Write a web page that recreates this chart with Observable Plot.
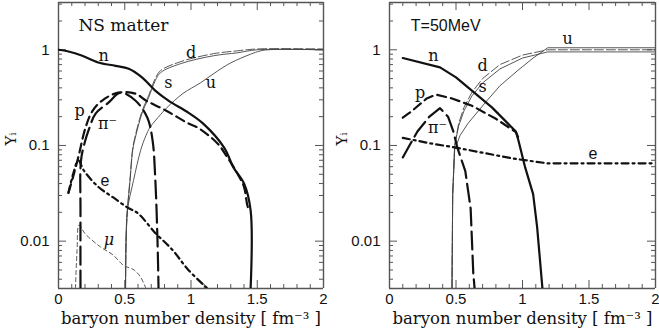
<!DOCTYPE html>
<html><head><meta charset="utf-8">
<script src="https://cdn.jsdelivr.net/npm/d3@7"></script>
<script src="https://cdn.jsdelivr.net/npm/@observablehq/plot@0.6"></script>
<style>
body{margin:0;background:#fff;}
#wrap{position:relative;width:659px;height:331px;overflow:hidden;}
#wrap > svg{position:absolute;top:0;}
</style></head><body><div id="wrap"></div>
<script>
// ---- axis ticks ----
const xDomain = [0, 2];
const yDomain = [0.0032, 3.12];
const xTicks = [0, 0.5, 1, 1.5, 2];
const xTickLabels = ["0", "0.5", "1", "1.5", "2"];
const xMinor = [0.1,0.2,0.3,0.4,0.6,0.7,0.8,0.9,1.1,1.2,1.3,1.4,1.6,1.7,1.8,1.9];
const yTicks = [0.01, 0.1, 1];
const yTickLabels = ["0.01", "0.1", "1"];
const yMinor = [0.004,0.005,0.006,0.007,0.008,0.009,0.02,0.03,0.04,0.05,0.06,0.07,0.08,0.09,0.2,0.3,0.4,0.5,0.6,0.7,0.8,0.9,2,3];
const xLabel = "baryon number density [ fm⁻³ ]";
const yLabel = "Yᵢ";
const yLabelAt = [0.1];

// ---- left panel: NS matter ----
const nsN  = [[0,1.0],[0.075,0.96],[0.18,0.866],[0.30,0.737],[0.43,0.68],[0.53,0.634],[0.63,0.515],[0.73,0.374],[0.83,0.294],[0.98,0.22],[1.09,0.17],[1.25,0.095],[1.32,0.059],[1.40,0.040],[1.45,0.021],[1.45,0.0032]];
const nsP  = [[0.075,0.032],[0.11,0.047],[0.153,0.079],[0.204,0.154],[0.257,0.23],[0.33,0.295],[0.45,0.356],[0.58,0.348],[0.66,0.295],[0.81,0.232],[0.98,0.17],[1.05,0.154],[1.2,0.105],[1.275,0.075],[1.35,0.051],[1.40,0.037],[1.43,0.0226],[1.45,0.021]];
const nsPi = [[0.166,0.0032],[0.166,0.02],[0.17,0.07],[0.2,0.11],[0.226,0.143],[0.28,0.215],[0.377,0.28],[0.468,0.356],[0.58,0.295],[0.67,0.196],[0.71,0.113],[0.73,0.046],[0.747,0.0103],[0.755,0.0032]];
const nsE  = [[0.075,0.032],[0.11,0.05],[0.15,0.07],[0.19,0.055],[0.30,0.037],[0.41,0.0288],[0.52,0.0225],[0.60,0.0195],[0.73,0.0122],[0.86,0.0081],[0.98,0.005],[1.125,0.0032]];
const nsMu = [[0.128,0.0032],[0.14,0.008],[0.155,0.0147],[0.2,0.012],[0.317,0.0087],[0.41,0.0072],[0.49,0.0056],[0.57,0.005],[0.62,0.0042],[0.66,0.0032]];
const nsS  = [[0.506,0.0032],[0.51,0.0103],[0.52,0.021],[0.54,0.043],[0.56,0.089],[0.58,0.121],[0.63,0.216],[0.68,0.316],[0.73,0.475],[0.77,0.576],[0.92,0.715],[1.17,0.866],[1.35,0.93],[1.50,1.0],[2.0,1.0]];
const nsD  = [[0.506,0.0032],[0.51,0.0103],[0.52,0.021],[0.54,0.045],[0.56,0.093],[0.58,0.127],[0.63,0.227],[0.68,0.332],[0.73,0.5],[0.77,0.605],[0.92,0.75],[1.17,0.91],[1.35,0.975],[1.50,1.02],[2.0,1.02]];
const nsU  = [[0.506,0.0032],[0.51,0.0103],[0.52,0.021],[0.566,0.043],[0.62,0.089],[0.66,0.127],[0.69,0.154],[0.77,0.21],[0.82,0.25],[0.94,0.35],[1.07,0.45],[1.2,0.6],[1.30,0.73],[1.45,0.9],[1.52,0.97],[1.58,1.0],[2.0,1.0]];
const nsTitle = [{x: 0.15, y: 1.78, t: "NS matter"}];
const nsLabels = [
  {x:0.34, y:0.866, t:"n"},
  {x:1.0, y:0.93, t:"d"},
  {x:0.83, y:0.45, t:"s"},
  {x:1.15, y:0.45, t:"u"},
  {x:0.16, y:0.232, t:"p"},
  {x:0.37, y:0.17, t:"π⁻"}
];
const nsSansLabels = [{x:0.35, y:0.043, t:"e"}];
const nsItalicLabels = [{x:0.38, y:0.0103, t:"μ"}];

// ---- right panel: T = 50 MeV ----
const tN  = [[0.1,0.82],[0.38,0.655],[0.5,0.514],[0.77,0.25],[0.95,0.14],[0.97,0.112],[1.02,0.059],[1.08,0.031],[1.11,0.014],[1.15,0.0032]];
const tP  = [[0.1,0.195],[0.17,0.23],[0.28,0.31],[0.35,0.34],[0.47,0.31],[0.62,0.26],[0.8,0.19],[0.95,0.138],[0.97,0.12]];
const tPi = [[0.1,0.075],[0.15,0.1],[0.21,0.14],[0.3,0.2],[0.38,0.245],[0.44,0.2],[0.48,0.14],[0.51,0.095],[0.57,0.054],[0.61,0.022],[0.63,0.0046],[0.64,0.0032]];
const tE  = [[0.1,0.12],[0.31,0.105],[0.50,0.095],[0.68,0.085],[0.93,0.073],[1.19,0.065],[2.0,0.065]];
const tD  = [[0.47,0.0032],[0.475,0.03],[0.49,0.1],[0.52,0.17],[0.56,0.25],[0.62,0.36],[0.7,0.5],[0.83,0.7],[1.0,0.88],[1.19,1.0],[2.0,1.0]];
const tS  = [[0.47,0.0032],[0.475,0.03],[0.49,0.1],[0.52,0.16],[0.56,0.23],[0.62,0.33],[0.7,0.45],[0.83,0.63],[1.0,0.82],[1.19,0.95],[2.0,0.95]];
const tU  = [[0.47,0.0032],[0.475,0.03],[0.49,0.09],[0.53,0.127],[0.59,0.17],[0.72,0.28],[0.83,0.42],[0.96,0.6],[1.08,0.82],[1.19,1.05],[2.0,1.05]];
const tTitle = [{x: 0.16, y: 1.78, t: "T=50MeV"}];
const tLabels = [
  {x:0.33, y:0.866, t:"n"},
  {x:0.70, y:0.68, t:"d"},
  {x:0.70, y:0.41, t:"s"},
  {x:1.34, y:1.30, t:"u"},
  {x:0.23, y:0.356, t:"p"},
  {x:0.36, y:0.154, t:"π⁻"}
];
const tSansLabels = [{x:1.53, y:0.081, t:"e"}];

const SERIF = "DejaVu Serif";
const SANS = "Liberation Sans";
const FRAME = "#555";
const INK = "#111";

function line(data, style, curve) {
  return Plot.line(data, {x: d => d[0], y: d => d[1], curve, clip: true, ...style});
}

function panel({width, ml, mr, series, title, titleFont, titleSize, labels, sansLabels, italicLabels, curve}) {
  const H = 331 - 2 - 43, W = width - ml - mr;
  const thick = {stroke: INK, strokeWidth: 2.2};
  const thin = {stroke: "#444", strokeWidth: 0.9};
  const tk = {stroke: FRAME, strokeWidth: 1};
  const marks = [
    // frame
    Plot.ruleX(xDomain, {x: d => d, stroke: FRAME, strokeWidth: 1.4}),
    Plot.ruleY(yDomain, {y: d => d, stroke: FRAME, strokeWidth: 1.4}),
    // inward ticks, all four sides
    Plot.ruleX(xTicks, {x: d => d, insetTop: H - 8, ...tk}),
    Plot.ruleX(xTicks, {x: d => d, insetBottom: H - 8, ...tk}),
    Plot.ruleX(xMinor, {x: d => d, insetTop: H - 4, ...tk}),
    Plot.ruleX(xMinor, {x: d => d, insetBottom: H - 4, ...tk}),
    Plot.ruleY(yTicks, {y: d => d, insetRight: W - 8, ...tk}),
    Plot.ruleY(yTicks, {y: d => d, insetLeft: W - 8, ...tk}),
    Plot.ruleY(yMinor, {y: d => d, insetRight: W - 4, ...tk}),
    Plot.ruleY(yMinor, {y: d => d, insetLeft: W - 4, ...tk}),
    // tick labels
    Plot.text(xTicks, {x: d => d, frameAnchor: "bottom", dy: 15, text: (d, i) => xTickLabels[i],
      fontFamily: SANS, fontSize: 15, fill: INK}),
    Plot.text(yTicks, {y: d => d, frameAnchor: "left", dx: -9, textAnchor: "end", text: (d, i) => yTickLabels[i],
      fontFamily: SANS, fontSize: 15, fill: INK}),
    // axis titles
    Plot.text([xLabel], {frameAnchor: "bottom", dy: 35, fontFamily: SERIF, fontSize: 16.5, fill: INK}),
    Plot.text(yLabelAt, {y: d => d, frameAnchor: "left", dx: -47, rotate: -90, text: () => yLabel,
      fontFamily: SERIF, fontSize: 15, fill: INK}),
    // curves
    line(series.u, thin, curve),
    line(series.s, thin, curve),
    line(series.d, {...thin, strokeDasharray: "9,3"}, curve),
    series.mu ? line(series.mu, {...thin, strokeDasharray: "4,3"}, curve) : null,
    line(series.e, {...thick, strokeDasharray: "7,4,2,4"}, curve),
    line(series.pi, {...thick, strokeDasharray: "18,6"}, curve),
    line(series.p, {...thick, strokeDasharray: "9,5"}, curve),
    line(series.n, thick, curve),
    // annotations
    Plot.text(title, {x: "x", y: "y", text: "t", textAnchor: "start", fontFamily: titleFont, fontSize: titleSize, fill: INK}),
    Plot.text(labels, {x: "x", y: "y", text: "t", fontFamily: SERIF, fontSize: 16, fill: INK}),
    Plot.text(sansLabels, {x: "x", y: "y", text: "t", fontFamily: SANS, fontSize: 16, fill: INK}),
    italicLabels ? Plot.text(italicLabels, {x: "x", y: "y", text: "t", fontFamily: SERIF, fontStyle: "italic", fontSize: 16, fill: INK}) : null
  ].filter(Boolean);
  return Plot.plot({
    width, height: 331,
    marginLeft: ml, marginRight: mr, marginTop: 2, marginBottom: 43,
    style: {background: "#fff", overflow: "visible"},
    x: {domain: xDomain, axis: null},
    y: {type: "log", domain: yDomain, axis: null},
    marks
  });
}

const wrap = document.getElementById("wrap");
const left = panel({width: 330, ml: 58, mr: 7, curve: "catmull-rom",
  series: {n: nsN, p: nsP, pi: nsPi, e: nsE, mu: nsMu, s: nsS, d: nsD, u: nsU},
  title: nsTitle, titleFont: SERIF, titleSize: 17, labels: nsLabels, sansLabels: nsSansLabels, italicLabels: nsItalicLabels});
left.style.left = "0px";
const right = panel({width: 329, ml: 59, mr: 4, curve: "linear",
  series: {n: tN, p: tP, pi: tPi, e: tE, s: tS, d: tD, u: tU},
  title: tTitle, titleFont: SANS, titleSize: 16, labels: tLabels, sansLabels: tSansLabels});
right.style.left = "330px";
wrap.appendChild(left);
wrap.appendChild(right);
</script></body></html>
